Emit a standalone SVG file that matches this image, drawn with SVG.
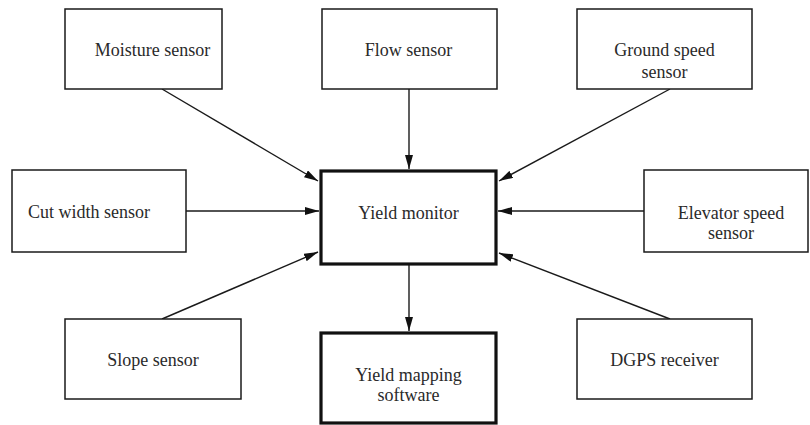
<svg xmlns="http://www.w3.org/2000/svg" width="810" height="425" viewBox="0 0 810 425">
  <style>
    .box { fill: #fff; stroke: #1a1a1a; stroke-width: 1.5; }
    .main { fill: #fff; stroke: #111; stroke-width: 3.2; }
    .lbl { font-family: "Liberation Serif", "Times New Roman", serif; font-size: 18px; fill: #2a2a2a; text-anchor: middle; dominant-baseline: central; }
    .edge { stroke: #1a1a1a; stroke-width: 1.4; fill: none; marker-end: url(#arrow); }
  </style>
  <defs>
    <marker id="arrow" viewBox="0 0 14 8" refX="14" refY="4" markerWidth="14" markerHeight="8" markerUnits="userSpaceOnUse" orient="auto">
      <path d="M0,0 L14,4 L0,8 Z" fill="#111"/>
    </marker>
  </defs>

  <rect width="810" height="425" fill="#fff"/>

  <g id="connectors">
    <line class="edge" x1="162" y1="89" x2="318" y2="181"/>
    <line class="edge" x1="409" y1="89" x2="409" y2="169"/>
    <line class="edge" x1="670" y1="89" x2="499" y2="181"/>
    <line class="edge" x1="186" y1="211" x2="319" y2="211"/>
    <line class="edge" x1="644" y1="211" x2="498" y2="211"/>
    <line class="edge" x1="162" y1="319" x2="318" y2="252"/>
    <line class="edge" x1="670" y1="319" x2="499" y2="253"/>
    <line class="edge" x1="409" y1="265" x2="409" y2="331"/>
  </g>

  <g id="moisture-sensor">
    <rect class="box" x="65" y="9" width="157" height="80"/>
    <text class="lbl" x="152.5" y="50">Moisture sensor</text>
  </g>

  <g id="flow-sensor">
    <rect class="box" x="322" y="9" width="175" height="80"/>
    <text class="lbl" x="408.5" y="50">Flow sensor</text>
  </g>

  <g id="ground-speed-sensor">
    <rect class="box" x="577" y="9" width="175" height="80"/>
    <text class="lbl" x="664.5" y="50">Ground speed</text>
    <text class="lbl" x="664.5" y="72">sensor</text>
  </g>

  <g id="cut-width-sensor">
    <rect class="box" x="12" y="170" width="174" height="82"/>
    <text class="lbl" x="89" y="212">Cut width sensor</text>
  </g>

  <g id="yield-monitor">
    <rect class="main" x="321" y="171" width="175" height="93"/>
    <text class="lbl" x="408.5" y="213">Yield monitor</text>
  </g>

  <g id="elevator-speed-sensor">
    <rect class="box" x="644" y="170" width="164" height="82"/>
    <text class="lbl" x="731" y="213">Elevator speed</text>
    <text class="lbl" x="731" y="233">sensor</text>
  </g>

  <g id="slope-sensor">
    <rect class="box" x="65" y="319" width="176" height="80"/>
    <text class="lbl" x="153" y="360">Slope sensor</text>
  </g>

  <g id="yield-mapping-software">
    <rect class="main" x="321" y="333" width="175" height="90"/>
    <text class="lbl" x="408.5" y="375">Yield mapping</text>
    <text class="lbl" x="408.5" y="395">software</text>
  </g>

  <g id="dgps-receiver">
    <rect class="box" x="577" y="319" width="175" height="80"/>
    <text class="lbl" x="664.5" y="360">DGPS receiver</text>
  </g>
</svg>
